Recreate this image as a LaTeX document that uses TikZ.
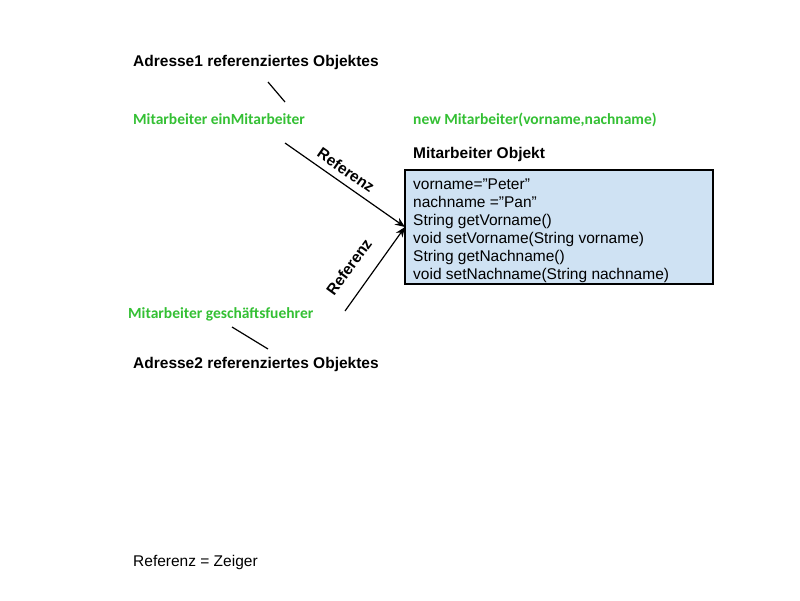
\documentclass[tikz,border=0pt]{standalone}
\usepackage{fontspec}
\setmainfont{Liberation Sans}
\newfontfamily\greenfont{Carlito}
\definecolor{codegreen}{RGB}{52,192,52}
\definecolor{boxblue}{RGB}{207,226,243}
\usetikzlibrary{arrows.meta}
\tikzset{
  lbl/.style={anchor=base west, inner sep=0pt, font=\fontsize{15.5}{18}\selectfont\bfseries},
  greenlbl/.style={anchor=base west, inner sep=0pt, text=codegreen, font=\fontsize{15.5}{18}\selectfont\greenfont\bfseries},
  plain/.style={anchor=base west, inner sep=0pt, font=\fontsize{15.5}{18}\selectfont},
  reflbl/.style={inner sep=0pt, font=\fontsize{15.5}{18}\selectfont\bfseries},
  objbox/.style={draw=black, line width=1.2pt, fill=boxblue},
  refarrow/.style={line width=1.2pt, -{Stealth[length=10pt,width=8pt]}},
  tick/.style={line width=1.2pt}
}
\begin{document}
\begin{tikzpicture}[x=1pt,y=-1pt]
\useasboundingbox[fill=white] (0,0) rectangle (800,600);
\node[lbl] (adr1) at (133,66) {Adresse1 referenziertes Objektes};
\coordinate (t1a) at (268,82);
\coordinate (t1b) at (285,102);
\draw[tick] (t1a) -- (t1b);
\node[greenlbl] (ein) at (133,124) {Mitarbeiter einMitarbeiter};
\node[greenlbl] (new) at (413,124) {new Mitarbeiter(vorname,nachname)};
\node[lbl] (objtitle) at (413,158) {Mitarbeiter Objekt};
\draw[objbox] (405,170) rectangle (713,284);
\coordinate (tip) at (405,227);
\node[plain] (l1) at (413,189) {vorname=''Peter''};
\node[plain] (l2) at (413,207) {nachname =''Pan''};
\node[plain] (l3) at (413,225) {String getVorname()};
\node[plain] (l4) at (413,243) {void setVorname(String vorname)};
\node[plain] (l5) at (413,261) {String getNachname()};
\node[plain] (l6) at (413,279) {void setNachname(String nachname)};
\coordinate (a1s) at (285,143);
\coordinate (a2s) at (345,311);
\draw[refarrow] (a1s) -- (tip);
\draw[refarrow] (a2s) -- (tip);
\node[reflbl, rotate=-35] (r1) at (346,170) {Referenz};
\node[reflbl, rotate=54] (r2) at (349,267) {Referenz};
\node[greenlbl] (gf) at (128,318) {Mitarbeiter geschäftsfuehrer};
\coordinate (t2a) at (232,327);
\coordinate (t2b) at (268,349);
\draw[tick] (t2a) -- (t2b);
\node[lbl] (adr2) at (133,368) {Adresse2 referenziertes Objektes};
\node[plain] (zeiger) at (133,566) {Referenz = Zeiger};
\end{tikzpicture}
\end{document}
